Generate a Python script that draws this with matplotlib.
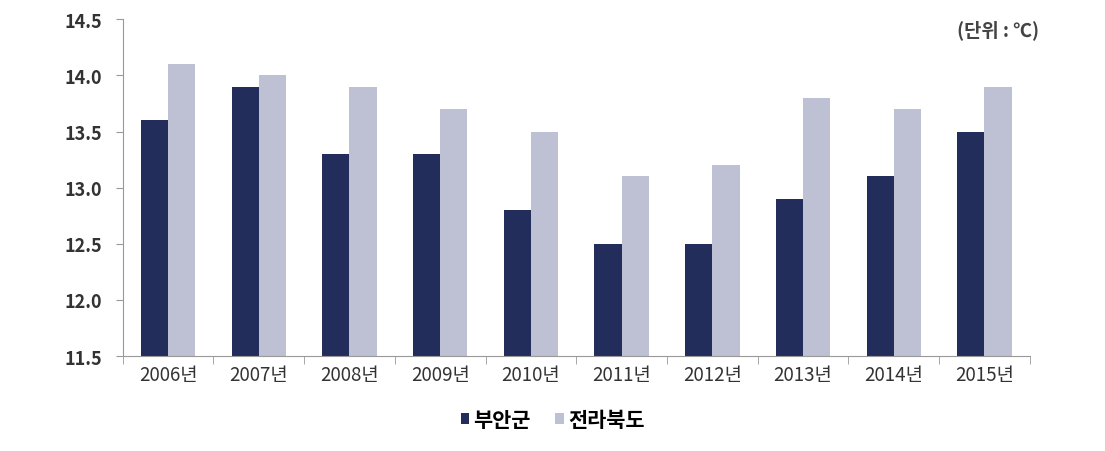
import matplotlib
matplotlib.use('Agg')
import matplotlib.pyplot as plt
import numpy as np

plt.rcParams['font.family'] = ['Noto Sans CJK KR', 'DejaVu Sans']

years = ['2006년', '2007년', '2008년', '2009년', '2010년',
         '2011년', '2012년', '2013년', '2014년', '2015년']
buan = [13.6, 13.9, 13.3, 13.3, 12.8, 12.5, 12.5, 12.9, 13.1, 13.5]
jeonbuk = [14.1, 14.0, 13.9, 13.7, 13.5, 13.1, 13.2, 13.8, 13.7, 13.9]
yticks = [11.5, 12.0, 12.5, 13.0, 13.5, 14.0, 14.5]

dark = '#232d5c'
light = '#bec1d4'
txt = '#333333'

fig = plt.figure(figsize=(11.05, 4.52), dpi=100)
ax = fig.add_axes([0.111, 0.21, 0.821, 0.745])

x = np.arange(len(years))
w = 0.3
ax.bar(x - w / 2, buan, w, color=dark, label='부안군')
ax.bar(x + w / 2, jeonbuk, w, color=light, label='전라북도')

ax.set_ylim(11.5, 14.5)
ax.set_xlim(-0.5, len(years) - 0.5)
ax.set_yticks(yticks)
ax.set_yticklabels([f'{v:.1f}' for v in yticks], fontsize=13, fontweight='bold', color=txt)
ax.set_xticks(x)
ax.set_xticklabels(years, fontsize=13.5, color=txt)
ax.tick_params(axis='x', length=0, pad=6)
ax.set_xticks(np.arange(-0.5, len(years)), minor=True)
ax.tick_params(axis='x', which='minor', length=6, color='#999999')
ax.tick_params(axis='y', length=5, color='#999999', pad=10)

for s in ['top', 'right']:
    ax.spines[s].set_visible(False)
ax.spines['left'].set_color('#999999')
ax.spines['bottom'].set_color('#999999')

ax.text(1.01, 0.97, '(단위 : ℃)', transform=ax.transAxes, ha='right', va='center',
        fontsize=13.5, fontweight='bold', color='#444444')

fig.legend(loc='center', bbox_to_anchor=(0.5, 0.07), ncol=2, frameon=False,
           handlelength=0.4, handleheight=0.4, handletextpad=0.2,
           columnspacing=1.2, prop={'weight': 'bold', 'size': 15})

fig.savefig('out.png', dpi=100)
